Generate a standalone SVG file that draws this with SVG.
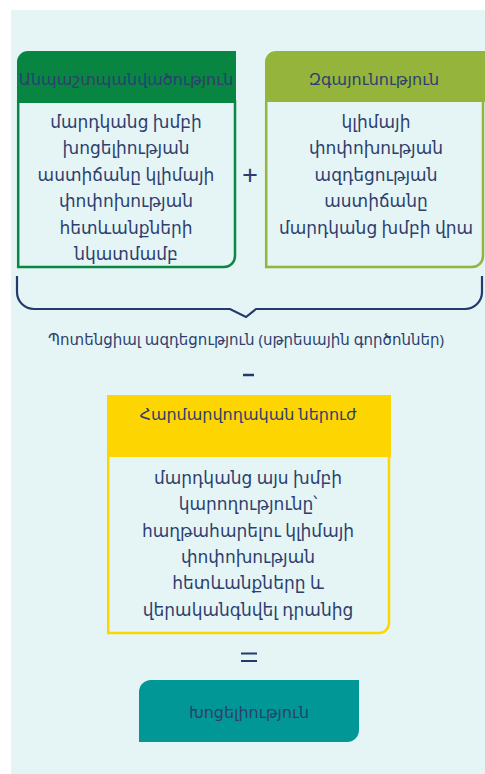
<svg xmlns="http://www.w3.org/2000/svg" width="485" height="774" viewBox="0 0 485 774">
<style>
text{font-family:"Noto Sans","DejaVu Sans",sans-serif;fill:#2e3f6f;text-anchor:middle}
.h{font-size:16px}
.b{font-size:17px}
.op{font-size:28px}
</style>
<rect x="11" y="10" width="474" height="764" fill="#e5f5f5"/>
<g id="vulnerability-factor">
<path d="M18.2 100 V267 H224 A11 11 0 0 0 235 256 V100" fill="#e5f5f5" stroke="#0b8744" stroke-width="2.5"/>
<path d="M17 103 V62 A11 11 0 0 1 28 51 H236 V103 Z" fill="#078541"/>
<text class="h" x="126" y="85">Անպաշտպանվածություն</text>
<text class="b" x="126" y="128">մարդկանց խմբի</text>
<text class="b" x="126" y="154">խոցելիության</text>
<text class="b" x="126" y="181">աստիճանը կլիմայի</text>
<text class="b" x="126" y="207">փոփոխության</text>
<text class="b" x="126" y="234">հետևանքների</text>
<text class="b" x="126" y="260">նկատմամբ</text>
</g>
<g id="sensitivity">
<path d="M266.2 100 V267 H472 A11 11 0 0 0 483 256 V100" fill="#e5f5f5" stroke="#95b43b" stroke-width="2.5"/>
<path d="M265 102 V62 A11 11 0 0 1 276 51 H485 V102 Z" fill="#95b43b"/>
<text class="h" x="374" y="85">Զգայունություն</text>
<text class="b" x="376" y="128">կլիմայի</text>
<text class="b" x="376" y="154">փոփոխության</text>
<text class="b" x="376" y="181">ազդեցության</text>
<text class="b" x="376" y="207">աստիճանը</text>
<text class="b" x="376" y="234">մարդկանց խմբի վրա</text>
</g>
<g id="connectors">
<text class="op" x="250" y="185">+</text>
<path d="M17 276 V292 A17 17 0 0 0 34 309 H230 L246 317 L256 309 H465 A17 17 0 0 0 482 292 V276" fill="none" stroke="#233a6e" stroke-width="2.2"/>
<text style="font-size:15px" x="246" y="345">Պոտենցիալ ազդեցություն (սթրեսային գործոններ)</text>
<path d="M243 375 H254" stroke="#233a6e" stroke-width="2.5"/>
<path d="M241 653.5 H257 M241 661 H257" stroke="#233a6e" stroke-width="2.2"/>
</g>
<g id="adaptive-capacity">
<path d="M108.2 450 V633 H379 A10 10 0 0 0 389 623 V450" fill="#e5f5f5" stroke="#fdd500" stroke-width="2.5"/>
<rect x="107" y="395" width="284" height="62" fill="#fdd500"/>
<text class="h" x="248" y="420">Հարմարվողական ներուժ</text>
<text class="b" x="248" y="484">մարդկանց այս խմբի</text>
<text class="b" x="248" y="510">կարողությունը՝</text>
<text class="b" x="248" y="537">հաղթահարելու կլիմայի</text>
<text class="b" x="248" y="563">փոփոխության</text>
<text class="b" x="248" y="589">հետևանքները և</text>
<text class="b" x="248" y="616">վերականգնվել դրանից</text>
</g>
<g id="vulnerability">
<path d="M139 742 V692 A12 12 0 0 1 151 680 H359 V730 A12 12 0 0 1 347 742 Z" fill="#009796"/>
<text class="h" x="249" y="718">Խոցելիություն</text>
</g>
</svg>
